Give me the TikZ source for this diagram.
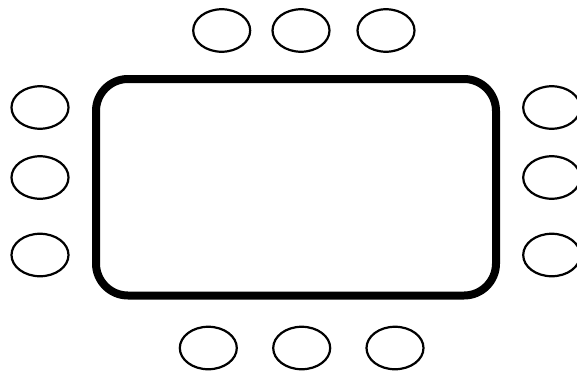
\documentclass[tikz,border=0pt]{standalone}
\usetikzlibrary{shapes.geometric}
\begin{document}
\begin{tikzpicture}[x=1pt,y=-1pt,
  seat/.style={draw=black,ellipse,line width=2.2pt,minimum width=57pt,minimum height=42.5pt,inner sep=0pt},
  tablebox/.style={draw=black,line width=8pt,rounded corners=32pt}]
\useasboundingbox (0,0) rectangle (577,372);
\clip (0,0) rectangle (577,372);
\draw[tablebox] (96,79) rectangle (496,295.5);
\node[seat] (t1) at (221.7,30.5) {};
\node[seat] (t2) at (301,30.5) {};
\node[seat] (t3) at (386,30.5) {};
\node[seat] (l1) at (40,107.5) {};
\node[seat] (l2) at (40,177.5) {};
\node[seat] (l3) at (40,255) {};
\node[seat] (r1) at (551.7,107.5) {};
\node[seat] (r2) at (551.7,177.5) {};
\node[seat] (r3) at (551.7,255) {};
\node[seat] (b1) at (208.3,348) {};
\node[seat] (b2) at (301.7,348) {};
\node[seat] (b3) at (395,348) {};
\end{tikzpicture}
\end{document}
